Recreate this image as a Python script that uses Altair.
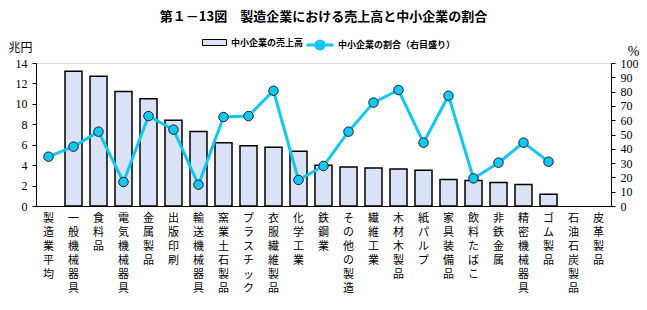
import altair as alt
import pandas as pd

categories = ["製造業平均", "一般機械器具", "食料品", "電気機械器具", "金属製品", "出版印刷",
              "輸送機械器具", "窯業土石製品", "プラスチック", "衣服繊維製品", "化学工業", "鉄鋼業",
              "その他の製造", "繊維工業", "木材木製品", "紙パルプ", "家具装備品", "飲料たばこ",
              "非鉄金属", "精密機械器具", "ゴム製品", "石油石炭製品", "皮革製品"]
sales = [None, 13.2, 12.7, 11.2, 10.5, 8.4, 7.3, 6.2, 5.9, 5.75, 5.35, 4.0,
         3.82, 3.72, 3.62, 3.5, 2.6, 2.5, 2.3, 2.1, 1.15, None, None]
share = [34.5, 41.5, 52.0, 16.8, 62.9, 53.4, 14.9, 62.2, 62.9, 80.6, 18.2, 28.0,
         52.0, 72.3, 81.1, 44.3, 77.1, 19.3, 30.3, 44.3, 31.0, None, None]

bar_label = "中小企業の売上高"
line_label = "中小企業の割合（右目盛り）"
title_text = "第１－13図　製造企業における売上高と中小企業の割合"

df = pd.DataFrame({"cat": categories, "sales": sales, "share": share})
df["s1"] = bar_label
df["s2"] = line_label

BAR_FILL = "#d9e2f7"
CYAN = "#10c8f4"
JP = "Noto Sans CJK JP"

x_enc = alt.X("cat:N", sort=categories,
              scale=alt.Scale(paddingInner=0.32, paddingOuter=0.16),
              axis=alt.Axis(title=None, labelAngle=0, labelExpr="split(datum.value, '')",
                            labelBaseline="top", labelAlign="center", ticks=False,
                            labelFont=JP, labelFontSize=11, labelLineHeight=14,
                            labelPadding=6, labelColor="black", domainColor="black",
                            labelOverlap=False))

base = alt.Chart(df)

bars = base.mark_bar(stroke="black", strokeWidth=1.5).encode(
    x=x_enc,
    y=alt.Y("sales:Q", scale=alt.Scale(domain=[0, 14], nice=False),
            axis=alt.Axis(title="兆円", titleAngle=0, titleX=-28, titleY=-16,
                          titleAlign="left", titleBaseline="middle",
                          titleFont=JP, titleFontSize=12, titleFontWeight="normal",
                          titleColor="black",
                          values=list(range(0, 15, 2)), grid=False, tickSize=4,
                          labelFont="Liberation Serif", labelFontSize=12, labelPadding=5,
                          labelColor="black", domainColor="black", tickColor="black")),
    color=alt.Color("s1:N", scale=alt.Scale(domain=[bar_label], range=[BAR_FILL]),
                    legend=alt.Legend(orient="none", legendX=166, legendY=-33, title=None,
                                      padding=0, symbolType="M-1,-0.25H1V0.25H-1Z",
                                      symbolSize=576, symbolStrokeColor="black",
                                      symbolStrokeWidth=1, labelFont=JP, labelFontSize=9,
                                      labelFontWeight="bold", labelColor="black",
                                      labelOffset=4)),
)

y_right = alt.Y("share:Q", scale=alt.Scale(domain=[0, 100], nice=False),
                axis=alt.Axis(orient="right", title="%", titleAngle=0, titleX=22, titleY=-12,
                              titleAlign="center", titleBaseline="middle",
                              titleFont="Liberation Serif", titleFontSize=14,
                              titleFontWeight="normal", titleColor="black",
                              values=list(range(0, 101, 10)), grid=False, tickSize=4,
                              labelFont="Liberation Serif", labelFontSize=12, labelPadding=5,
                              labelColor="black", domainColor="black", tickColor="black"))

line = base.mark_line(strokeWidth=3).encode(
    x=x_enc,
    y=y_right,
    stroke=alt.Stroke("s2:N", scale=alt.Scale(domain=[line_label], range=[CYAN]),
                      legend=alt.Legend(orient="none", legendX=269, legendY=-33, title=None,
                                        padding=0,
                                        symbolType="M-1,0H-0.3A0.3,0.3 0 1,1 0.3,0A0.3,0.3 0 1,1 -0.3,0M0.3,0H1",
                                        symbolSize=729, symbolStrokeWidth=3,
                                        symbolFillColor=CYAN,
                                        labelFont=JP, labelFontSize=9,
                                        labelFontWeight="bold", labelColor="black",
                                        labelOffset=3)),
)

points = base.mark_point(filled=True, size=90, fill=CYAN, stroke="#202020",
                         strokeWidth=1, opacity=1).encode(
    x=x_enc,
    y=y_right,
)

right = alt.layer(line, points)

chart = alt.layer(bars, right).resolve_scale(y="independent").properties(
    width=575, height=143,
    autosize=alt.AutoSizeParams(type="none"),
    padding={"left": 28, "top": 55, "right": 28, "bottom": 96},
    title=alt.TitleParams(title_text, font=JP, fontSize=13, fontWeight="bold",
                          anchor="middle", color="black", offset=6),
).configure_view(stroke=None).configure(background="white")

chart.save("out.html", embed_options={"renderer": "svg", "actions": False})
